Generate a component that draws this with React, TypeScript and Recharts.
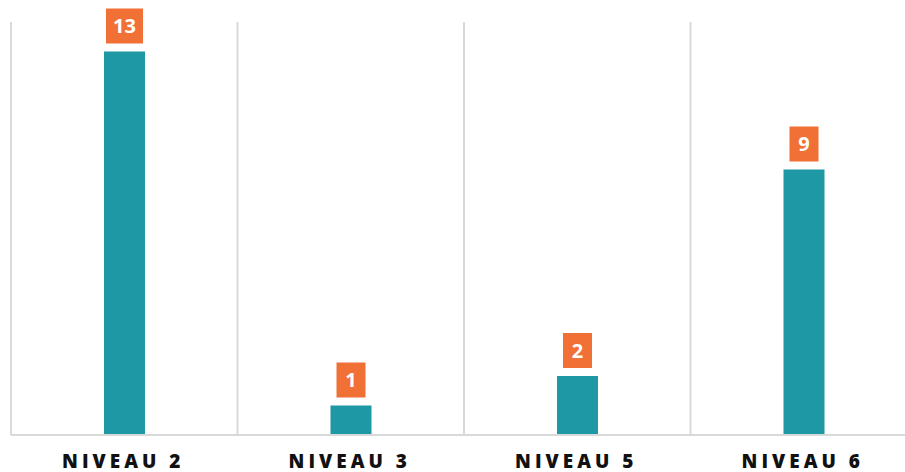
import React from 'react'
import { BarChart, Bar, XAxis, YAxis, CartesianGrid, LabelList } from 'recharts'

// ─── Colours ──────────────────────────────────────────────────────────────────
const TEAL   = '#1e98a4'
const ORANGE = '#f07036'
const GRID   = '#d9d9d9'
const INK    = '#111111'
const FONT   = '"Open Sans", Lato, sans-serif'

// ─── Data ─────────────────────────────────────────────────────────────────────
const levels = ['NIVEAU 2', 'NIVEAU 3', 'NIVEAU 5', 'NIVEAU 6']
const counts = [13, 1, 2, 9]
const yTicks = [0, 14]

const data = levels.map((name, i) => ({ name, count: counts[i] }))

// ─── Orange value badge above each bar ────────────────────────────────────────
function Badge(props: any) {
  const { x, y, width, value } = props
  const w = String(value).length > 1 ? 37 : 29
  const h = 35
  const cx = x + width / 2
  const top = y - 8 - h
  return (
    <g>
      <rect x={cx - w / 2} y={top} width={w} height={h} fill={ORANGE} />
      <text x={cx} y={top + h / 2 + 7} textAnchor="middle" fill="#fff"
        fontSize={20} fontWeight={700} fontFamily={FONT}>{value}</text>
    </g>
  )
}

function LevelTick({ x, y, payload }: any) {
  return (
    <text x={x - 1} y={y + 25} textAnchor="middle" fill={INK} fontSize={19}
      fontWeight={800} fontFamily={FONT} letterSpacing={4}>{payload.value}</text>
  )
}

// category boundaries for the vertical grid lines
const boundaries = ({ offset }: any) =>
  levels.map((_, i) => offset.left + (i * offset.width) / levels.length)

export default function App() {
  return (
    <div style={{ position: 'absolute', left: 0, top: 0, width: 905, height: 472, overflow: 'hidden', background: '#fff' }}>
      <BarChart width={917} height={472} data={data} margin={{ top: 22, right: 0, left: 11, bottom: 0 }}>
        <CartesianGrid stroke={GRID} strokeWidth={2} horizontal={false} verticalCoordinatesGenerator={boundaries} />
        <XAxis dataKey="name" height={37} axisLine={{ stroke: GRID, strokeWidth: 2 }} tickLine={false} tick={<LevelTick />} interval={0} />
        <YAxis hide domain={[0, 14]} ticks={yTicks} />
        <Bar dataKey="count" fill={TEAL} barSize={41} isAnimationActive={false}>
          <LabelList dataKey="count" content={<Badge />} />
        </Bar>
      </BarChart>
    </div>
  )
}
